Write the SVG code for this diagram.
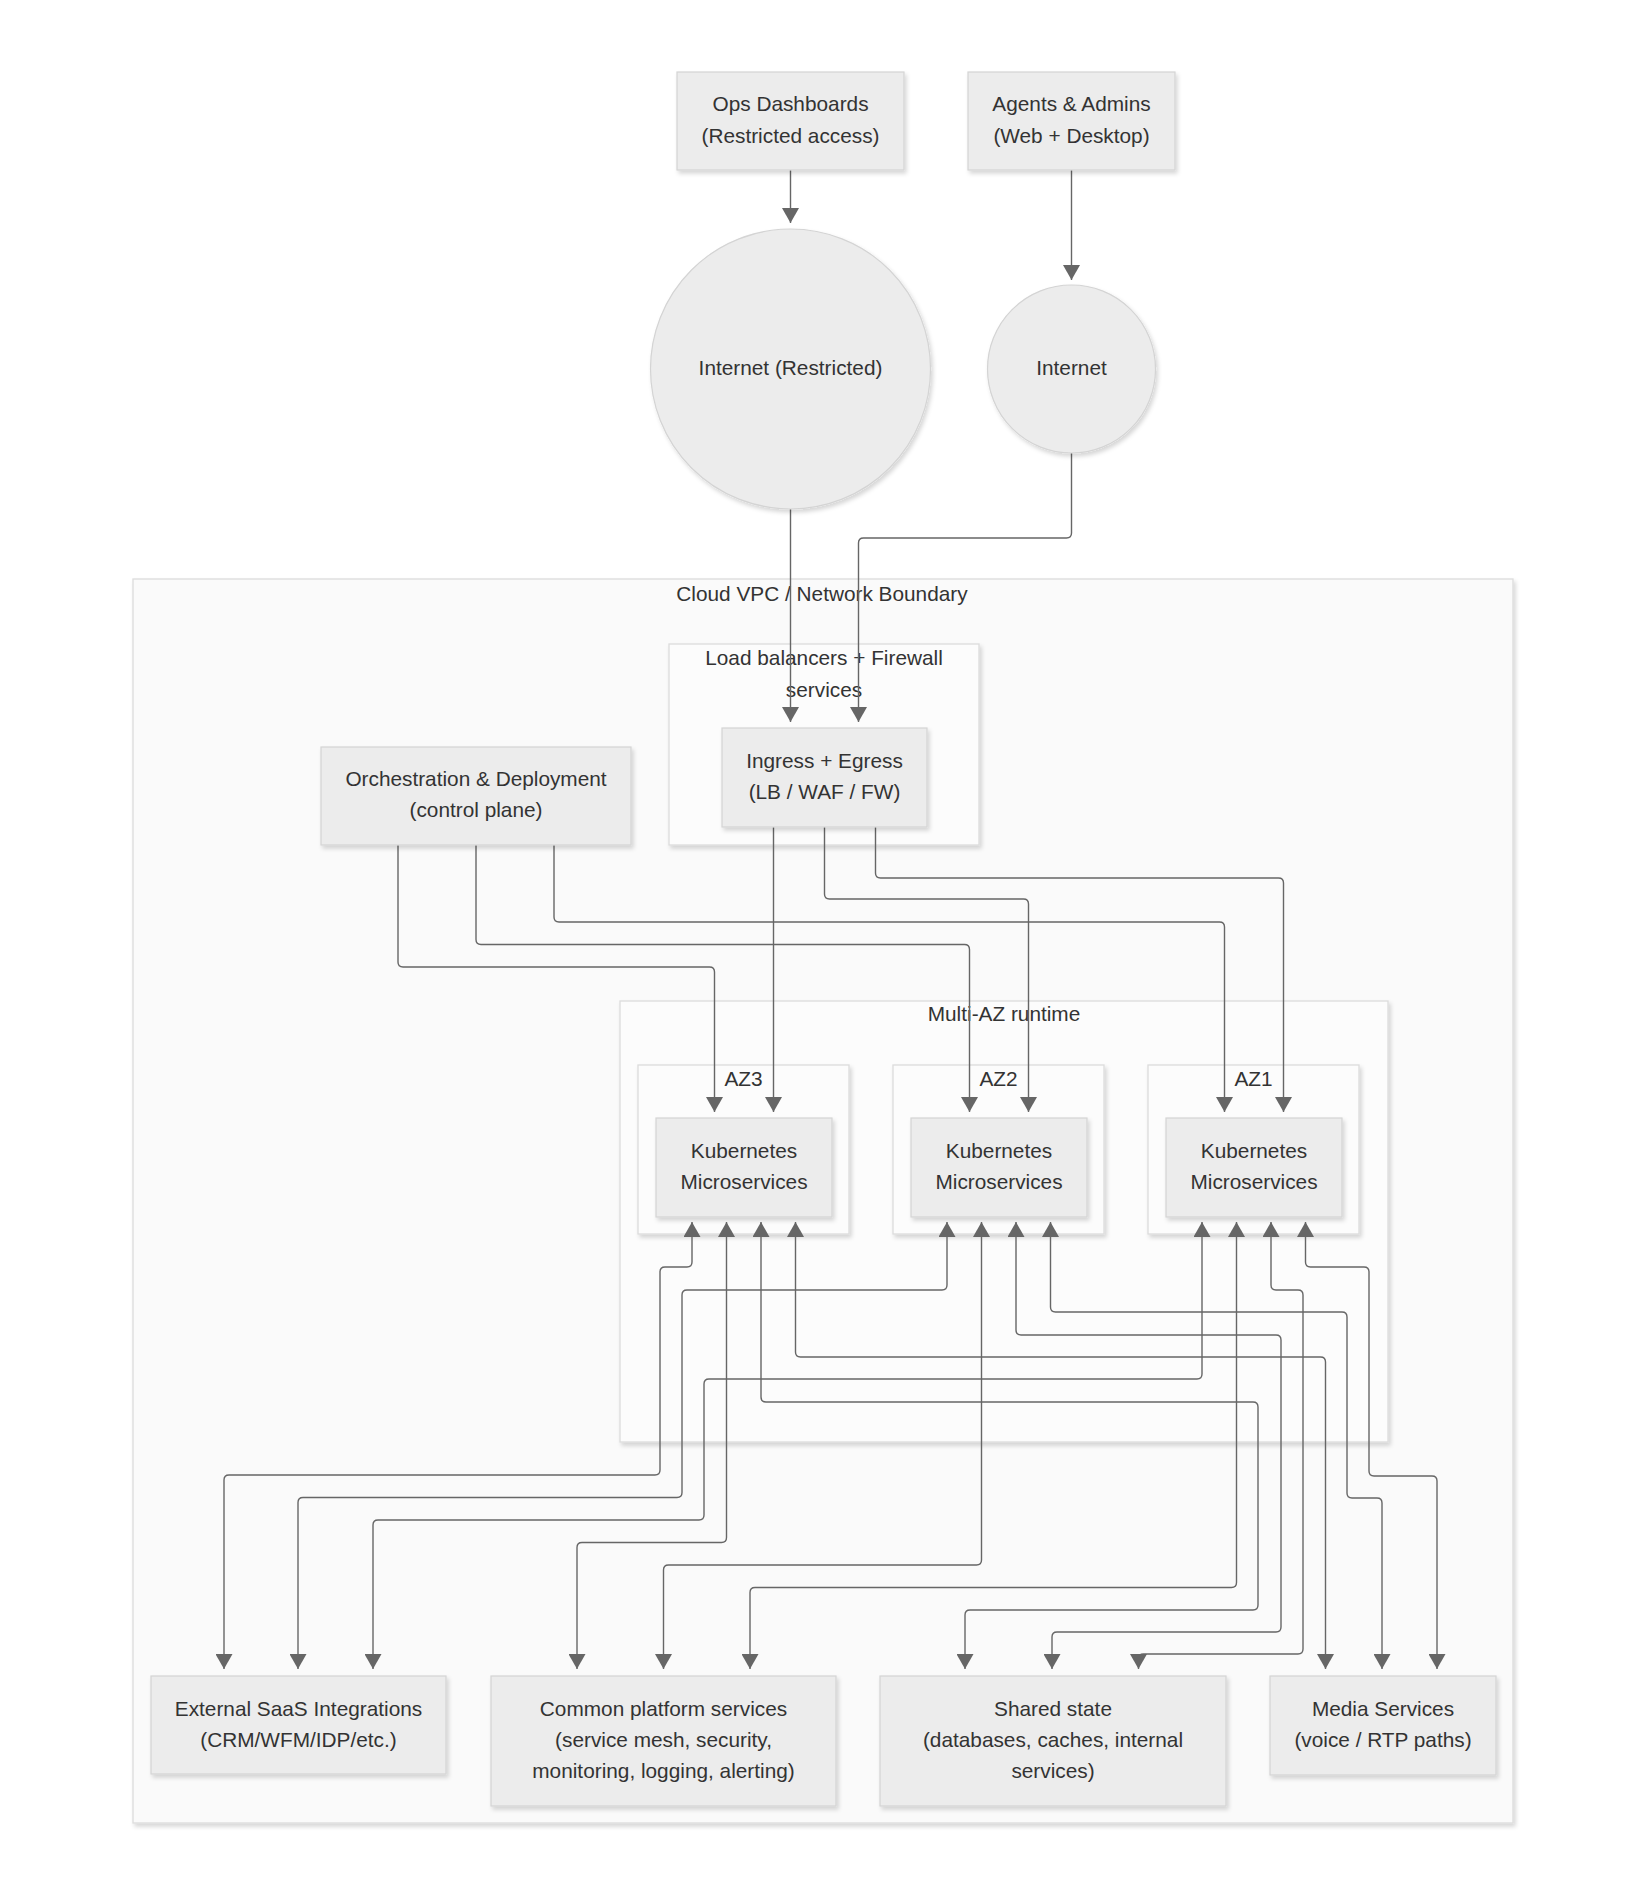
<svg xmlns="http://www.w3.org/2000/svg" width="1646" height="1892" viewBox="0 0 1646 1892">
<defs>
<filter id="sh" x="-10%" y="-10%" width="125%" height="130%">
<feDropShadow dx="2" dy="3" stdDeviation="2" flood-color="#000" flood-opacity="0.16"/>
</filter>
<marker id="ah" viewBox="0 0 15 17" refX="15" refY="8.5" markerWidth="15" markerHeight="17" markerUnits="userSpaceOnUse" orient="auto-start-reverse">
<path d="M0,0 L15,8.5 L0,17 z" fill="#666"/>
</marker>
<style>
.node rect, .node circle { fill:#ececec; stroke:#d4d4d4; stroke-width:1.2; filter:url(#sh); }
.cluster rect { fill:#fcfcfc; stroke:#dcdcdc; stroke-width:1.3; filter:url(#sh); }
#vpc rect { fill:#fafafa; }
text { font-family:"Liberation Sans", Arial, Helvetica, sans-serif; font-size:20.8px; fill:#333; text-anchor:middle; dominant-baseline:central; transform:translateY(-1.2px); }
#edges path { fill:none; stroke:#666; stroke-width:1.4; marker-end:url(#ah); }
#edges path.bi { marker-start:url(#ah); }
</style>
</defs>
<rect width="1646" height="1892" fill="#ffffff"/>

<g id="clusters">
<g id="vpc" class="cluster"><rect x="133" y="579" width="1380" height="1244"/><text x="822" y="595">Cloud VPC / Network Boundary</text></g>
<g id="lb" class="cluster"><rect x="669" y="644" width="310" height="201"/><text x="824" y="659">Load balancers + Firewall</text><text x="824" y="691">services</text></g>
<g id="multiaz" class="cluster"><rect x="620" y="1001" width="768" height="441"/><text x="1004" y="1015">Multi-AZ runtime</text></g>
<g id="az3" class="cluster"><rect x="638" y="1065" width="211" height="169"/><text x="743.5" y="1080">AZ3</text></g>
<g id="az2" class="cluster"><rect x="893" y="1065" width="211" height="169"/><text x="998.5" y="1080">AZ2</text></g>
<g id="az1" class="cluster"><rect x="1148" y="1065" width="211" height="169"/><text x="1253.5" y="1080">AZ1</text></g>
</g>

<g id="edges">
<path d="M790.5,170 V223"/>
<path d="M1071.5,170 V280"/>
<path d="M790.5,509 V722"/>
<path d="M1071.5,453 V533 Q1071.5,538 1066.5,538 H863.5 Q858.5,538 858.5,543 V722"/>
<path d="M773.5,827 V1112"/>
<path d="M824.5,827 V894 Q824.5,899 829.5,899 H1023.5 Q1028.5,899 1028.5,904 V1112"/>
<path d="M875.5,827 V873 Q875.5,878 880.5,878 H1278.5 Q1283.5,878 1283.5,883 V1112"/>
<path d="M398,845 V962 Q398,967 403,967 H709.5 Q714.5,967 714.5,972 V1112"/>
<path d="M476,845 V939.5 Q476,944.5 481,944.5 H964.5 Q969.5,944.5 969.5,949.5 V1112"/>
<path d="M554,845 V917 Q554,922 559,922 H1219.5 Q1224.5,922 1224.5,927 V1112"/>

<path class="bi" d="M692,1222 V1262 Q692,1267 687,1267 H665 Q660,1267 660,1272 V1470 Q660,1475 655,1475 H229 Q224,1475 224,1480 V1669"/>
<path class="bi" d="M726.5,1222 V1537.5 Q726.5,1542.5 721.5,1542.5 H582 Q577,1542.5 577,1547.5 V1669"/>
<path class="bi" d="M761,1222 V1397 Q761,1402 766,1402 H1253 Q1258,1402 1258,1407 V1605 Q1258,1610 1253,1610 H970 Q965,1610 965,1615 V1669"/>
<path class="bi" d="M795.5,1222 V1352 Q795.5,1357 800.5,1357 H1320.5 Q1325.5,1357 1325.5,1362 V1669"/>
<path class="bi" d="M947,1222 V1285 Q947,1290 942,1290 H687 Q682,1290 682,1295 V1492.5 Q682,1497.5 677,1497.5 H303 Q298,1497.5 298,1502.5 V1669"/>
<path class="bi" d="M981.5,1222 V1560 Q981.5,1565 976.5,1565 H668.5 Q663.5,1565 663.5,1570 V1669"/>
<path class="bi" d="M1016,1222 V1330 Q1016,1335 1021,1335 H1276 Q1281,1335 1281,1340 V1627 Q1281,1632 1276,1632 H1057 Q1052,1632 1052,1637 V1669"/>
<path class="bi" d="M1050.5,1222 V1307 Q1050.5,1312 1055.5,1312 H1342 Q1347,1312 1347,1317 V1493 Q1347,1498 1352,1498 H1377 Q1382,1498 1382,1503 V1669"/>
<path class="bi" d="M1202,1222 V1374 Q1202,1379 1197,1379 H709 Q704,1379 704,1384 V1515 Q704,1520 699,1520 H378 Q373,1520 373,1525 V1669"/>
<path class="bi" d="M1236.5,1222 V1582.5 Q1236.5,1587.5 1231.5,1587.5 H755 Q750,1587.5 750,1592.5 V1669"/>
<path class="bi" d="M1271,1222 V1285 Q1271,1290 1276,1290 H1298 Q1303,1290 1303,1295 V1649 Q1303,1654 1298,1654 H1143.5 Q1138.5,1654 1138.5,1659 V1669"/>
<path class="bi" d="M1305.5,1222 V1262 Q1305.5,1267 1310.5,1267 H1364 Q1369,1267 1369,1272 V1471 Q1369,1476 1374,1476 H1432 Q1437,1476 1437,1481 V1669"/>
</g>

<g id="ops" class="node"><rect x="677" y="72" width="227" height="98"/><text x="790.5" y="105">Ops Dashboards</text><text x="790.5" y="137">(Restricted access)</text></g>
<g id="agents" class="node"><rect x="968" y="72" width="207" height="98"/><text x="1071.5" y="105">Agents &amp; Admins</text><text x="1071.5" y="137">(Web + Desktop)</text></g>
<g id="inet-restricted" class="node"><circle cx="790.5" cy="369" r="140"/><text x="790.5" y="369">Internet (Restricted)</text></g>
<g id="inet" class="node"><circle cx="1071.5" cy="369" r="84"/><text x="1071.5" y="369">Internet</text></g>
<g id="ingress" class="node"><rect x="722" y="728" width="205" height="99"/><text x="824.5" y="762">Ingress + Egress</text><text x="824.5" y="793">(LB / WAF / FW)</text></g>
<g id="orch" class="node"><rect x="321" y="747" width="310" height="98"/><text x="476" y="780">Orchestration &amp; Deployment</text><text x="476" y="811">(control plane)</text></g>
<g id="k8s-az3" class="node"><rect x="656" y="1118" width="176" height="99"/><text x="744" y="1152">Kubernetes</text><text x="744" y="1183">Microservices</text></g>
<g id="k8s-az2" class="node"><rect x="911" y="1118" width="176" height="99"/><text x="999" y="1152">Kubernetes</text><text x="999" y="1183">Microservices</text></g>
<g id="k8s-az1" class="node"><rect x="1166" y="1118" width="176" height="99"/><text x="1254" y="1152">Kubernetes</text><text x="1254" y="1183">Microservices</text></g>
<g id="saas" class="node"><rect x="151" y="1676" width="295" height="98"/><text x="298.5" y="1710">External SaaS Integrations</text><text x="298.5" y="1741">(CRM/WFM/IDP/etc.)</text></g>
<g id="platform" class="node"><rect x="491" y="1676" width="345" height="130"/><text x="663.5" y="1710">Common platform services</text><text x="663.5" y="1741">(service mesh, security,</text><text x="663.5" y="1772">monitoring, logging, alerting)</text></g>
<g id="shared" class="node"><rect x="880" y="1676" width="346" height="130"/><text x="1053" y="1710">Shared state</text><text x="1053" y="1741">(databases, caches, internal</text><text x="1053" y="1772">services)</text></g>
<g id="media" class="node"><rect x="1270" y="1676" width="226" height="99"/><text x="1383" y="1710">Media Services</text><text x="1383" y="1741">(voice / RTP paths)</text></g>
</svg>
